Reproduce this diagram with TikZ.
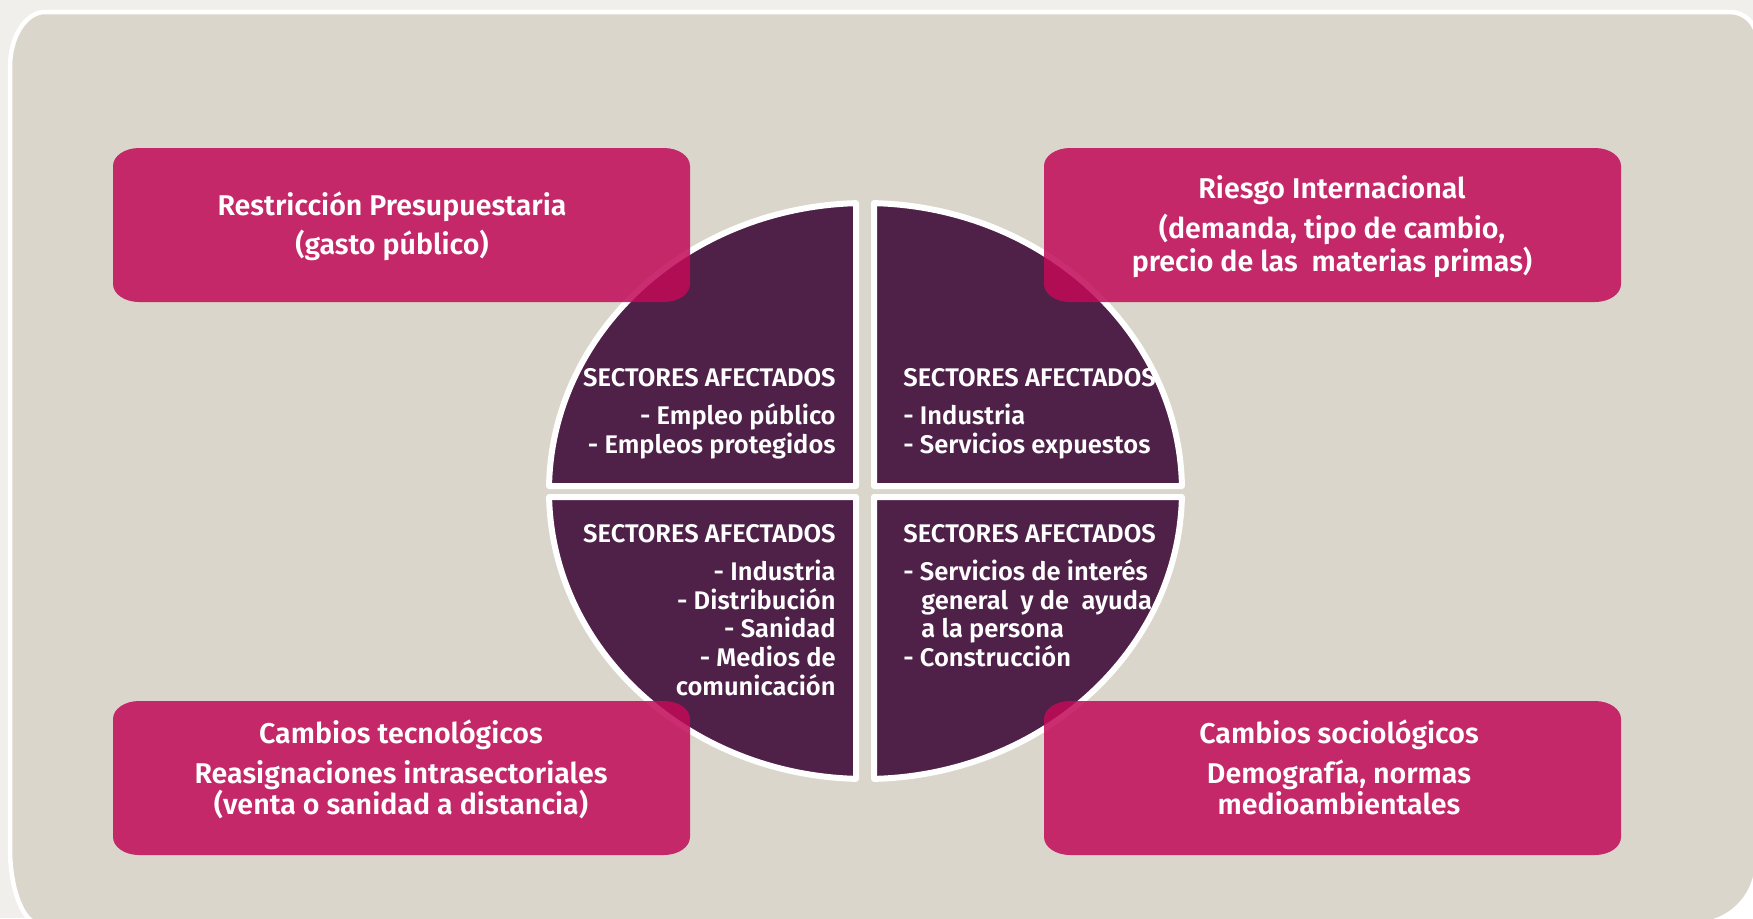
\documentclass[tikz,border=0pt]{standalone}
\usepackage{fontspec}
\setmainfont{Fira Sans}[BoldFont={Fira Sans SemiBold}]
\usetikzlibrary{calc}
\definecolor{outerbg}{HTML}{F1EFEB}
\definecolor{framefill}{HTML}{DAD6CB}
\definecolor{quadfill}{HTML}{4F2149}
\definecolor{pinkfill}{RGB}{193,10,88}
\tikzset{
  quad/.style={fill=quadfill, draw=white, line width=3pt, line join=round},
  pinkshape/.style={fill=pinkfill, fill opacity=0.85},
  qtxt/.style={font=\bfseries\fontsize{12.75}{15}\selectfont, text=white, inner sep=0pt},
  btxt/.style={font=\bfseries\fontsize{14.3}{17}\selectfont, text=white, inner sep=0pt, anchor=base},
}
\newcommand\pinkbox[4]{%
  \path[pinkshape] ({#1+26},{-#2}) -- ({#3-26},{-#2})
    arc[start angle=90, end angle=0, x radius=13pt, y radius=9pt]
    -- ({#3},{-#4+18})
    arc[start angle=0, end angle=-90, x radius=13pt, y radius=9pt]
    -- ({#1+26},{-#4})
    arc[start angle=270, end angle=180, x radius=13pt, y radius=9pt]
    -- ({#1},{-#2-18})
    arc[start angle=180, end angle=90, x radius=13pt, y radius=9pt]
    -- cycle;}
\begin{document}
\begin{tikzpicture}[x=0.5pt, y=0.5pt]
\useasboundingbox (0,0) rectangle (1753,-918);
\fill[outerbg] (0,0) rectangle (1753,-918);
\fill[white] (1670,-830) rectangle (1753,-918);
% frame
\path[fill=framefill, draw=white, line width=2.25pt]
  (45,-12) -- (1730,-12)
  arc[start angle=90, end angle=0, radius=13.5pt]
  -- (1757,-862)
  arc[start angle=0, end angle=-90, radius=31pt]
  -- (40,-924)
  arc[start angle=270, end angle=180, x radius=15pt, y radius=38pt]
  -- (10,-67)
  arc[start angle=180, end angle=90, x radius=17.5pt, y radius=27.5pt]
  -- cycle;
% circle quadrants
\coordinate (C) at (865.5,-491);
\path[quad] (856,-486) -- ($(C)+(91.72:158.25pt and 144pt)$)
  arc[start angle=91.72, end angle=179.005, x radius=158.25pt, y radius=144pt] -- cycle;
\path[quad] (874,-486) -- ($(C)+(88.461:158.25pt and 144pt)$)
  arc[start angle=88.461, end angle=0.9947, x radius=158.25pt, y radius=144pt] -- cycle;
\path[quad] (856,-497) -- ($(C)+(268.28:158.25pt and 144pt)$)
  arc[start angle=268.28, end angle=181.194, x radius=158.25pt, y radius=144pt] -- cycle;
\path[quad] (874,-497) -- ($(C)+(271.539:158.25pt and 144pt)$)
  arc[start angle=271.539, end angle=358.806, x radius=158.25pt, y radius=144pt] -- cycle;
% pink boxes
\pinkbox{113}{148}{690}{302}
\pinkbox{1044}{148}{1621}{302}
\pinkbox{113}{701}{690}{855}
\pinkbox{1044}{701}{1621}{855}
% box texts
\node[btxt] (b1a) at (392,-215) {Restricción Presupuestaria};
\node[btxt] (b1b) at (392,-254) {(gasto público)};
\node[btxt] (b2a) at (1332,-198) {Riesgo Internacional};
\node[btxt] (b2b) at (1332,-238) {(demanda, tipo de cambio,};
\node[btxt] (b2c) at (1332,-271) {precio de las~~materias primas)};
\node[btxt] (b3a) at (401,-743) {Cambios tecnológicos};
\node[btxt] (b3b) at (401,-783) {Reasignaciones intrasectoriales};
\node[btxt] (b3c) at (401,-814) {(venta o sanidad a distancia)};
\node[btxt] (b4a) at (1339,-743) {Cambios sociológicos};
\node[btxt] (b4b) at (1339,-783) {Demografía, normas};
\node[btxt] (b4c) at (1339,-814) {medioambientales};
% quadrant texts
\node[qtxt, anchor=base east] (q1a) at (836,-386) {SECTORES AFECTADOS};
\node[qtxt, anchor=base east] (q1b) at (836,-424) {- Empleo público};
\node[qtxt, anchor=base east] (q1c) at (836,-453) {- Empleos protegidos};
\node[qtxt, anchor=base west] (q2a) at (903,-386) {SECTORES AFECTADOS};
\node[qtxt, anchor=base west] (q2b) at (903,-424) {- Industria};
\node[qtxt, anchor=base west] (q2c) at (903,-453) {- Servicios expuestos};
\node[qtxt, anchor=base east] (q3a) at (836,-542) {SECTORES AFECTADOS};
\node[qtxt, anchor=base east] (q3b) at (836,-580) {- Industria};
\node[qtxt, anchor=base east] (q3c) at (836,-609) {- Distribución};
\node[qtxt, anchor=base east] (q3d) at (836,-637) {- Sanidad};
\node[qtxt, anchor=base east] (q3e) at (836,-666) {- Medios de};
\node[qtxt, anchor=base east] (q3f) at (836,-695) {comunicación};
\node[qtxt, anchor=base west] (q4a) at (903,-542) {SECTORES AFECTADOS};
\node[qtxt, anchor=base west] (q4b) at (903,-580) {- Servicios de interés};
\node[qtxt, anchor=base west] (q4c) at (921,-609) {general~~y de~~ayuda};
\node[qtxt, anchor=base west] (q4d) at (921,-637) {a la persona};
\node[qtxt, anchor=base west] (q4e) at (903,-666) {- Construcción};
\end{tikzpicture}
\end{document}
